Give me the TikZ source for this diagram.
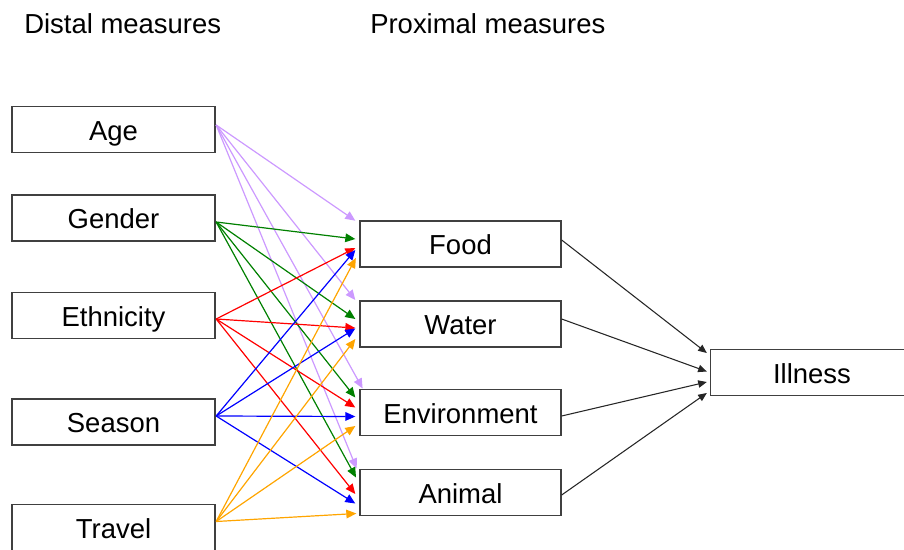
\documentclass[tikz,border=0pt]{standalone}
\usepackage{fontspec}
\setmainfont{Liberation Sans}
\usetikzlibrary{calc,arrows.meta}
\definecolor{cPur}{RGB}{204,153,255}
\definecolor{cGrn}{RGB}{0,128,0}
\definecolor{cRed}{RGB}{255,0,0}
\definecolor{cBlu}{RGB}{0,0,255}
\definecolor{cOrg}{RGB}{255,165,0}
\definecolor{cBox}{RGB}{64,64,64}
\tikzset{
  boxnode/.style={draw=cBox, line width=1pt, rectangle, inner sep=0pt,
    minimum width=152.25pt, minimum height=34.5pt,
    text height=15.8pt, text depth=0pt,
    font=\fontsize{20.6pt}{24pt}\selectfont},
  titlenode/.style={inner sep=0pt, anchor=base west,
    font=\fontsize{20.6pt}{24pt}\selectfont},
  link/.style={line width=0.9pt, -{Triangle[length=7.5pt,width=6.5pt]}},
  blink/.style={line width=0.8pt, black!85, -{Triangle[length=6.5pt,width=5.5pt]}},
}
\begin{document}
\begin{tikzpicture}[x=0.75pt,y=-0.75pt]
\clip (0,0) rectangle (904,550);
\node[titlenode] (t1) at (24,33) {Distal measures};
\node[titlenode] (t2) at (370,33) {Proximal measures};
% distal
\node[boxnode] (age) at (113.5,129.5) {Age};
\node[boxnode] (gender) at (113.5,218) {Gender};
\node[boxnode] (eth) at (113.5,315.5) {Ethnicity};
\node[boxnode] (season) at (113.5,422) {Season};
\node[boxnode] (travel) at (113.5,527.5) {Travel};
% proximal
\node[boxnode, minimum width=150.75pt] (food) at (460.5,244) {Food};
\node[boxnode, minimum width=150.75pt] (water) at (460.5,324) {Water};
\node[boxnode, minimum width=150.75pt] (env) at (460.5,412.5) {Environment};
\node[boxnode, minimum width=150.75pt] (animal) at (460.5,492.5) {Animal};
% outcome
\node[boxnode] (ill) at (812,372.5) {Illness};
% source points
\coordinate (sA) at ($(age.east)+(0.5,-4.5)$);
\coordinate (sG) at ($(gender.east)+(0.5,4)$);
\coordinate (sE) at ($(eth.east)+(0.5,3.5)$);
\coordinate (sS) at ($(season.east)+(0.5,-6)$);
\coordinate (sT) at ($(travel.east)+(0.5,-6)$);
% Age (purple)
\draw[link,cPur] (sA) -- ($(food.west)+(-4,-23.3)$);
\draw[link,cPur] (sA) -- ($(water.west)+(-4,-24)$);
\draw[link,cPur] (sA) -- ($(env.west)+(3.3,-24)$);
\draw[link,cPur] (sA) -- ($(animal.west)+(-2.7,-24)$);
% Gender (green)
\draw[link,cGrn] (sG) -- ($(food.west)+(-4,-5)$);
\draw[link,cGrn] (sG) -- ($(water.west)+(-4,-5)$);
\draw[link,cGrn] (sG) -- ($(env.west)+(-4,-15)$);
\draw[link,cGrn] (sG) -- ($(animal.west)+(-3.3,-15)$);
% Ethnicity (red)
\draw[link,cRed] (sE) -- ($(food.west)+(-4,4)$);
\draw[link,cRed] (sE) -- ($(water.west)+(-4,4)$);
\draw[link,cRed] (sE) -- ($(env.west)+(-4,-5)$);
\draw[link,cRed] (sE) -- ($(animal.west)+(-4,1.5)$);
% Season (blue)
\draw[link,cBlu] (sS) -- ($(food.west)+(-4,6)$);
\draw[link,cBlu] (sS) -- ($(water.west)+(-4,4.5)$);
\draw[link,cBlu] (sS) -- ($(env.west)+(-4,4)$);
\draw[link,cBlu] (sS) -- ($(animal.west)+(-4,11)$);
% Travel (orange)
\draw[link,cOrg] (sT) -- ($(food.west)+(-3.5,14)$);
\draw[link,cOrg] (sT) -- ($(water.west)+(-4,15)$);
\draw[link,cOrg] (sT) -- ($(env.west)+(-4,13.5)$);
\draw[link,cOrg] (sT) -- ($(animal.west)+(-3,21)$);
% to illness
\draw[blink] ($(food.east)+(0,-4)$) -- ($(ill.west)+(-3,-19.5)$);
\draw[blink] ($(water.east)+(0,-5)$) -- ($(ill.west)+(-3,-1)$);
\draw[blink] ($(env.east)+(0,3.5)$) -- ($(ill.west)+(-3,9.5)$);
\draw[blink] ($(animal.east)+(0,2.5)$) -- ($(ill.west)+(-3,20.5)$);
\end{tikzpicture}
\end{document}
